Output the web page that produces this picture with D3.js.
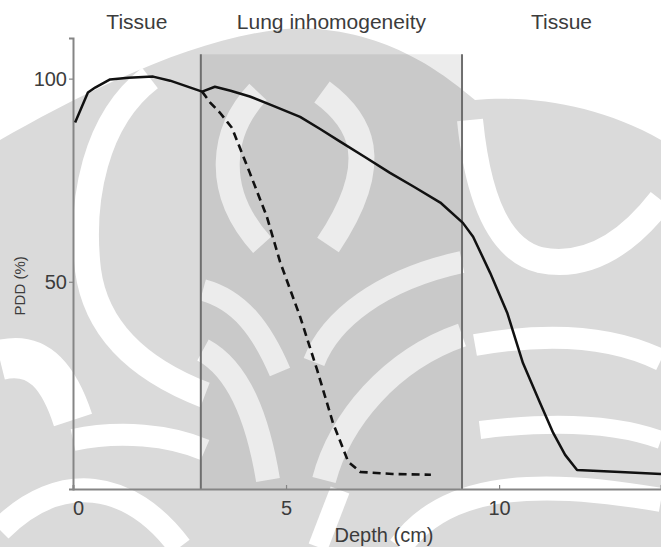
<!DOCTYPE html>
<html>
<head>
<meta charset="utf-8">
<script src="https://cdn.jsdelivr.net/npm/d3@7/dist/d3.min.js"></script>
<style>
  body { margin: 0; background: #fff; }
  text { font-family: "Liberation Sans", Arial, sans-serif; fill: #3c3c3c; }
</style>
</head>
<body>
<svg id="chart" width="661" height="547"></svg>
<script>
// depth (cm) and PDD (%)
var solidDepth = [0.05, 0.35, 0.52, 0.87, 1.3, 1.88, 2.28, 3.03, 3.33, 3.7, 4.15, 4.7, 5.33, 5.8, 6.27, 6.85, 7.44, 8.0, 8.62, 9.15, 9.39, 9.79, 10.19, 10.56, 10.96, 11.27, 11.55, 11.83, 12.84, 13.8];
var solidPdd = [89.2, 96.6, 97.8, 99.8, 100.2, 100.5, 99.5, 96.8, 98.0, 97.0, 95.6, 93.3, 90.6, 87.6, 84.5, 80.7, 76.8, 73.4, 69.5, 64.5, 61.1, 52.2, 42.4, 30.0, 20.2, 12.8, 7.4, 3.7, 3.2, 2.7];

var dashedDepth = [3.03, 3.22, 3.45, 3.73, 4.15, 4.55, 4.86, 5.33, 5.73, 6.10, 6.46, 6.74, 7.5, 8.4];
var dashedPdd = [96.8, 94.1, 91.6, 87.9, 76.8, 66.0, 54.9, 41.4, 28.3, 15.3, 5.7, 3.2, 2.7, 2.5];

var xTicks = [0, 5, 10];
var yTicks = [50, 100];
var regionNames = ["Tissue", "Lung inhomogeneity", "Tissue"];
var regionEdges = [0, 3, 9.13, 13.8];

var svg = d3.select('#chart');

var x = d3.scaleLinear().domain([0, 13.8]).range([73, 661]);
var y = d3.scaleLinear().domain([-1, 110]).range([489, 38]);

// faint scanned watermark behind the plot
var wm = svg.append('g').attr('class', 'watermark');
var grey = '#dadada';
wm.append('path')
	.attr('d', 'M0,140 C80,95 200,32 300,28 C390,30 445,75 475,100 C530,95 600,105 661,140 L661,547 L0,547 Z')
	.attr('fill', grey);
var whites = [
	['M150,78 C95,120 80,200 88,270 C96,330 140,370 205,395', 26],
	['M258,92 C222,130 212,190 262,245', 24],
	['M322,92 C360,120 385,160 328,245', 26],
	['M470,120 C478,200 500,250 540,260 C590,270 630,240 661,200', 26],
	['M0,360 C40,350 60,380 73,420', 40],
	['M203,290 C240,300 262,330 280,372', 22],
	['M203,350 C240,370 258,420 268,480', 24],
	['M462,262 C380,280 330,320 314,362', 22],
	['M462,335 C390,360 340,420 324,480', 24],
	['M475,345 C560,330 620,340 661,360', 22],
	['M480,430 C560,420 620,425 661,440', 18],
	['M73,440 C120,430 170,435 205,450', 22],
	['M0,530 C60,470 130,480 180,547', 24],
	['M400,547 C440,490 520,475 661,500', 24],
	['M318,547 L340,490', 20]
];
whites.forEach(function(w)
{
	wm.append('path')
		.attr('d', w[0])
		.attr('fill', 'none')
		.attr('stroke', '#fff')
		.attr('stroke-width', w[1]);
});

// lung band
svg.append('rect')
	.attr('x', x(regionEdges[1]))
	.attr('y', y(106))
	.attr('width', x(regionEdges[2]) - x(regionEdges[1]))
	.attr('height', y(-1) - y(106))
	.attr('fill', '#000')
	.attr('fill-opacity', 0.075);

// region borders
svg.selectAll('line.border').data([regionEdges[1], regionEdges[2]])
	.enter().append('line')
	.attr('class', 'border')
	.attr('x1', function(d){ return x(d); })
	.attr('x2', function(d){ return x(d); })
	.attr('y1', y(106))
	.attr('y2', y(-1))
	.attr('stroke', '#6e6e6e')
	.attr('stroke-width', 2);

// axes
var xAxis = d3.axisBottom(x).tickValues(xTicks).tickSize(-4).tickPadding(12).tickFormat(d3.format('d'));
var yAxis = d3.axisLeft(y).tickValues(yTicks).tickSize(4).tickPadding(2).tickFormat(d3.format('d'));

var gx = svg.append('g').attr('transform', 'translate(0,' + y(-1) + ')').call(xAxis);
var gy = svg.append('g').attr('transform', 'translate(' + x(0) + ',0)').call(yAxis);

[gx, gy].forEach(function(g)
{
	g.select('.domain').attr('stroke', '#858585').attr('stroke-width', 2);
	g.selectAll('.tick line').attr('stroke', '#858585').attr('stroke-width', 1.2);
	g.selectAll('.tick text').attr('font-size', 20).attr('fill', '#3c3c3c').attr('font-family', '"Liberation Sans", Arial, sans-serif');
});
gx.selectAll('.tick text').attr('dy', '0.71em')
	.attr('dx', function(d){ return d === 0 ? 5 : 0; });

svg.append('text')
	.attr('x', 384)
	.attr('y', 542)
	.attr('text-anchor', 'middle')
	.attr('font-size', 20)
	.text('Depth (cm)');

svg.append('text')
	.attr('transform', 'translate(25,' + y(49) + ') rotate(-90)')
	.attr('text-anchor', 'middle')
	.attr('font-size', 15)
	.text('PDD (%)');

// region titles
svg.selectAll('text.region').data(regionNames)
	.enter().append('text')
	.attr('class', 'region')
	.attr('x', function(d, i){ return x((regionEdges[i] + regionEdges[i + 1]) / 2); })
	.attr('y', 29)
	.attr('text-anchor', 'middle')
	.attr('font-size', 21)
	.text(function(d){ return d; });

// curves
var line = d3.line()
	.x(function(d){ return x(d[0]); })
	.y(function(d){ return y(d[1]); });

svg.append('path')
	.datum(d3.zip(solidDepth, solidPdd))
	.attr('d', line)
	.attr('fill', 'none')
	.attr('stroke', '#111')
	.attr('stroke-width', 2.5)
	.attr('stroke-linejoin', 'round');

svg.append('path')
	.datum(d3.zip(dashedDepth, dashedPdd))
	.attr('d', line)
	.attr('fill', 'none')
	.attr('stroke', '#111')
	.attr('stroke-width', 2.6)
	.attr('stroke-dasharray', '8,5');
</script>
</body>
</html>
